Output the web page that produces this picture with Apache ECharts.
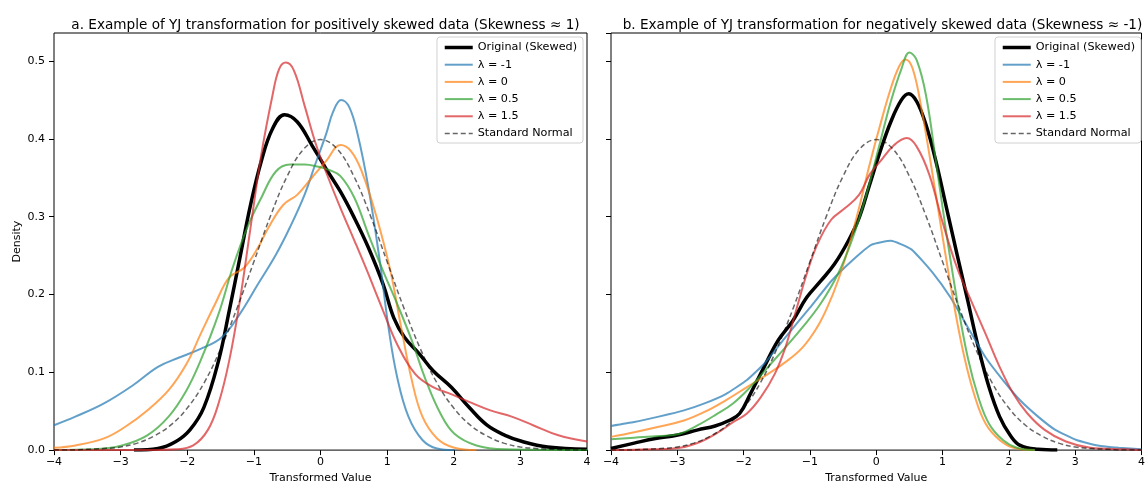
<!DOCTYPE html>
<html>
<head>
<meta charset="utf-8">
<script src="https://cdn.jsdelivr.net/npm/echarts@6/dist/echarts.min.js"></script>
<style>
  html, body { margin: 0; padding: 0; background: #fff; }
  #chart { width: 1148px; height: 489px; }
</style>
</head>
<body>
<div id="chart"></div>
<script>
// series names, same for both panels
var names = ['Original (Skewed)', 'λ = -1', 'λ = 0', 'λ = 0.5', 'λ = 1.5', 'Standard Normal'];

// panel a: positively skewed data, [x, density]
var aOriginal = [[-2.8,0],[-2.44,0.002],[-2.17,0.011],[-1.96,0.026],[-1.75,0.055],[-1.53,0.115],[-1.37,0.179],[-1.21,0.247],[-1.05,0.315],[-0.89,0.371],[-0.72,0.413],[-0.54,0.431],[-0.35,0.422],[-0.13,0.392],[0.08,0.362],[0.3,0.332],[0.51,0.298],[0.72,0.26],[0.94,0.213],[1.1,0.17],[1.26,0.145],[1.48,0.124],[1.69,0.102],[1.96,0.081],[2.23,0.055],[2.5,0.032],[2.77,0.019],[3.03,0.011],[3.41,0.004],[4,0.001]];
var aLamM1 = [[-4,0.032],[-3.68,0.043],[-3.25,0.06],[-2.82,0.083],[-2.44,0.107],[-2.12,0.119],[-1.8,0.13],[-1.48,0.145],[-1.21,0.175],[-0.94,0.213],[-0.67,0.251],[-0.46,0.286],[-0.24,0.328],[-0.08,0.367],[0.08,0.405],[0.19,0.435],[0.31,0.45],[0.43,0.441],[0.56,0.405],[0.72,0.337],[0.89,0.243],[1.02,0.158],[1.15,0.094],[1.32,0.043],[1.53,0.013],[1.75,0.002],[2.01,0]];
var aLam0 = [[-4,0.003],[-3.68,0.006],[-3.25,0.015],[-2.93,0.03],[-2.6,0.051],[-2.28,0.077],[-2.01,0.111],[-1.8,0.149],[-1.58,0.188],[-1.37,0.222],[-1.15,0.234],[-0.94,0.26],[-0.78,0.286],[-0.56,0.315],[-0.35,0.328],[-0.13,0.35],[0.08,0.371],[0.3,0.392],[0.46,0.384],[0.62,0.358],[0.83,0.303],[1.05,0.23],[1.21,0.158],[1.37,0.09],[1.53,0.043],[1.75,0.015],[2.01,0.003],[2.34,0]];
var aLam05 = [[-4,0],[-3.41,0.001],[-2.98,0.006],[-2.6,0.019],[-2.28,0.043],[-2.01,0.077],[-1.8,0.115],[-1.53,0.175],[-1.32,0.234],[-1.1,0.286],[-0.89,0.324],[-0.67,0.358],[-0.46,0.367],[-0.24,0.367],[-0.03,0.364],[0.13,0.36],[0.3,0.352],[0.51,0.324],[0.72,0.277],[0.94,0.23],[1.15,0.188],[1.37,0.141],[1.58,0.09],[1.8,0.047],[2.01,0.021],[2.34,0.006],[2.77,0.001],[4,0]];
var aLam15 = [[-4,0],[-2.6,0],[-2.17,0.001],[-1.91,0.006],[-1.69,0.026],[-1.53,0.06],[-1.37,0.115],[-1.21,0.192],[-1.05,0.286],[-0.89,0.379],[-0.72,0.456],[-0.62,0.49],[-0.52,0.498],[-0.4,0.488],[-0.24,0.443],[-0.08,0.396],[0.08,0.358],[0.3,0.311],[0.51,0.269],[0.72,0.226],[0.94,0.179],[1.15,0.136],[1.42,0.098],[1.69,0.081],[1.96,0.072],[2.23,0.062],[2.55,0.051],[2.87,0.043],[3.19,0.032],[3.57,0.019],[4,0.011]];

// panel b: negatively skewed data
var bOriginal = [[-4,0.002],[-3.65,0.009],[-3.33,0.015],[-3.01,0.019],[-2.69,0.026],[-2.43,0.031],[-2.22,0.038],[-2.06,0.047],[-1.9,0.072],[-1.69,0.107],[-1.48,0.141],[-1.26,0.166],[-1.05,0.196],[-0.84,0.217],[-0.63,0.239],[-0.42,0.269],[-0.26,0.298],[-0.1,0.341],[0.06,0.384],[0.22,0.422],[0.38,0.45],[0.49,0.458],[0.61,0.448],[0.75,0.418],[0.9,0.371],[1.06,0.311],[1.22,0.251],[1.38,0.192],[1.54,0.132],[1.7,0.081],[1.86,0.043],[2.02,0.019],[2.17,0.006],[2.44,0.001],[2.73,0]];
var bLamM1 = [[-4,0.031],[-3.65,0.036],[-3.28,0.043],[-2.9,0.051],[-2.59,0.06],[-2.27,0.072],[-1.95,0.09],[-1.69,0.111],[-1.37,0.145],[-1.0,0.183],[-0.68,0.217],[-0.37,0.243],[-0.07,0.264],[0.22,0.269],[0.53,0.258],[0.85,0.228],[1.12,0.196],[1.38,0.158],[1.65,0.119],[1.91,0.09],[2.17,0.064],[2.44,0.043],[2.7,0.026],[3.02,0.013],[3.34,0.006],[3.66,0.003],[4,0.001]];
var bLam0 = [[-4,0.017],[-3.65,0.023],[-3.28,0.03],[-2.9,0.038],[-2.59,0.049],[-2.27,0.064],[-1.95,0.081],[-1.63,0.098],[-1.37,0.113],[-1.11,0.132],[-0.89,0.158],[-0.74,0.183],[-0.58,0.217],[-0.42,0.26],[-0.26,0.311],[-0.1,0.367],[0.06,0.418],[0.22,0.465],[0.35,0.494],[0.44,0.502],[0.55,0.49],[0.69,0.435],[0.85,0.354],[1.01,0.269],[1.17,0.188],[1.33,0.119],[1.49,0.068],[1.65,0.034],[1.86,0.013],[2.07,0.003],[2.39,0]];
var bLam05 = [[-4,0.014],[-3.65,0.016],[-3.28,0.018],[-2.96,0.021],[-2.69,0.032],[-2.43,0.045],[-2.16,0.06],[-1.9,0.081],[-1.63,0.107],[-1.37,0.132],[-1.11,0.158],[-0.84,0.188],[-0.58,0.226],[-0.37,0.269],[-0.15,0.328],[0.06,0.396],[0.22,0.448],[0.38,0.49],[0.5,0.511],[0.61,0.501],[0.75,0.456],[0.9,0.371],[1.06,0.277],[1.22,0.192],[1.38,0.119],[1.54,0.068],[1.7,0.034],[1.91,0.013],[2.12,0.003],[2.39,0]];
var bLam15 = [[-4,0],[-3.38,0.001],[-2.96,0.003],[-2.64,0.011],[-2.38,0.023],[-2.16,0.036],[-1.95,0.047],[-1.74,0.068],[-1.53,0.098],[-1.37,0.132],[-1.21,0.179],[-1.05,0.226],[-0.89,0.264],[-0.68,0.296],[-0.47,0.311],[-0.26,0.328],[-0.1,0.354],[0.06,0.371],[0.27,0.392],[0.46,0.401],[0.61,0.39],[0.8,0.354],[1.01,0.29],[1.22,0.234],[1.43,0.192],[1.65,0.149],[1.86,0.107],[2.07,0.072],[2.28,0.047],[2.54,0.026],[2.86,0.011],[3.23,0.003],[3.76,0.001],[4,0]];

// dashed reference curve, same in both panels
var normalX = [-4,-3.75,-3.5,-3.25,-3,-2.75,-2.5,-2.25,-2,-1.75,-1.5,-1.25,-1,-0.75,-0.5,-0.25,0,0.25,0.5,0.75,1,1.25,1.5,1.75,2,2.25,2.5,2.75,3,3.25,3.5,3.75,4];
var normalY = [0,0,0.001,0.002,0.004,0.009,0.018,0.032,0.054,0.086,0.13,0.183,0.242,0.301,0.352,0.387,0.399,0.387,0.352,0.301,0.242,0.183,0.13,0.086,0.054,0.032,0.018,0.009,0.004,0.002,0.001,0,0];

var titleA = 'a. Example of YJ transformation for positively skewed data (Skewness ≈ 1)';
var titleB = 'b. Example of YJ transformation for negatively skewed data (Skewness ≈ -1)';

var colors = ['#000000', 'rgba(31,119,180,0.7)', 'rgba(255,127,14,0.7)', 'rgba(44,160,44,0.7)', 'rgba(214,39,40,0.7)', 'rgba(0,0,0,0.6)'];
var widths = [3.5, 2, 2, 2, 2, 1.5];
var font = 'DejaVu Sans';

var normalPts = normalX.map(function (x, i) { return [x, normalY[i]]; });

function makeSeries(idx, sets) {
  return sets.map(function (d, i) {
    return {
      name: names[i],
      type: 'line',
      xAxisIndex: idx,
      yAxisIndex: idx,
      data: d,
      smooth: (idx === 1 && i === 1) ? 0.15 : 0.4,
      symbol: 'none',
      color: colors[i],
      lineStyle: {
        color: colors[i],
        width: widths[i],
        type: i === 5 ? [5, 3] : 'solid'
      },
      z: 2
    };
  });
}

function xAxis(idx) {
  return {
    type: 'value', gridIndex: idx, min: -4, max: 4, interval: 1,
    name: 'Transformed Value', nameLocation: 'middle', nameGap: 22,
    nameTextStyle: { color: '#000', fontFamily: font, fontSize: 11 },
    axisLine: { show: false, onZero: false },
    axisTick: { show: true, length: 5, lineStyle: { color: '#000' } },
    axisLabel: {
      color: '#000', fontFamily: font, fontSize: 11, margin: 7,
      formatter: function (v) { return v < 0 ? '\u2212' + (-v) : String(v); }
    },
    splitLine: { show: false }
  };
}

function yAxis(idx) {
  return {
    type: 'value', gridIndex: idx, min: 0, max: 0.536, interval: 0.1,
    name: idx === 0 ? 'Density' : '', nameLocation: 'middle', nameGap: 31,
    nameTextStyle: { color: '#000', fontFamily: font, fontSize: 11 },
    axisLine: { show: false, onZero: false },
    axisTick: { show: true, length: 5, lineStyle: { color: '#000' } },
    axisLabel: {
      show: idx === 0, color: '#000', fontFamily: font, fontSize: 11, margin: 9,
      showMaxLabel: false,
      formatter: function (v) { return v.toFixed(1); }
    },
    splitLine: { show: false }
  };
}

function legend(right) {
  return {
    data: names.map(function (n, i) {
      return { name: n, lineStyle: { width: widths[i] } };
    }),
    orient: 'vertical', right: right, top: 37,
    itemWidth: 28, itemHeight: 10, itemGap: 6.2,
    padding: [5, 6, 4, 6],
    backgroundColor: 'rgba(255,255,255,0.8)',
    borderColor: '#d0d0d0', borderWidth: 1, borderRadius: 3,
    itemStyle: { opacity: 0 },
    textStyle: { color: '#000', fontFamily: font, fontSize: 11.2 },
    selectedMode: false
  };
}

var chart = echarts.init(document.getElementById('chart'), null, { renderer: 'canvas' });
chart.setOption({
  animation: false,
  backgroundColor: '#fff',
  title: [
    { text: titleA, left: 320.5, top: 13, textAlign: 'center',
      textStyle: { color: '#000', fontFamily: font, fontSize: 13.6, fontWeight: 'normal' } },
    { text: titleB, left: 877.5, top: 13, textAlign: 'center',
      textStyle: { color: '#000', fontFamily: font, fontSize: 13.6, fontWeight: 'normal' } }
  ],
  grid: [
    { left: 54, top: 33, width: 533, height: 420, show: true, borderColor: '#000', borderWidth: 1 },
    { left: 611, top: 33, width: 533, height: 420, show: true, borderColor: '#000', borderWidth: 1 }
  ],
  xAxis: [xAxis(0), xAxis(1)],
  yAxis: [yAxis(0), yAxis(1)],
  legend: [legend(565), legend(7)],
  series: makeSeries(0, [aOriginal, aLamM1, aLam0, aLam05, aLam15, normalPts])
    .concat(makeSeries(1, [bOriginal, bLamM1, bLam0, bLam05, bLam15, normalPts]))
});
</script>
</body>
</html>
